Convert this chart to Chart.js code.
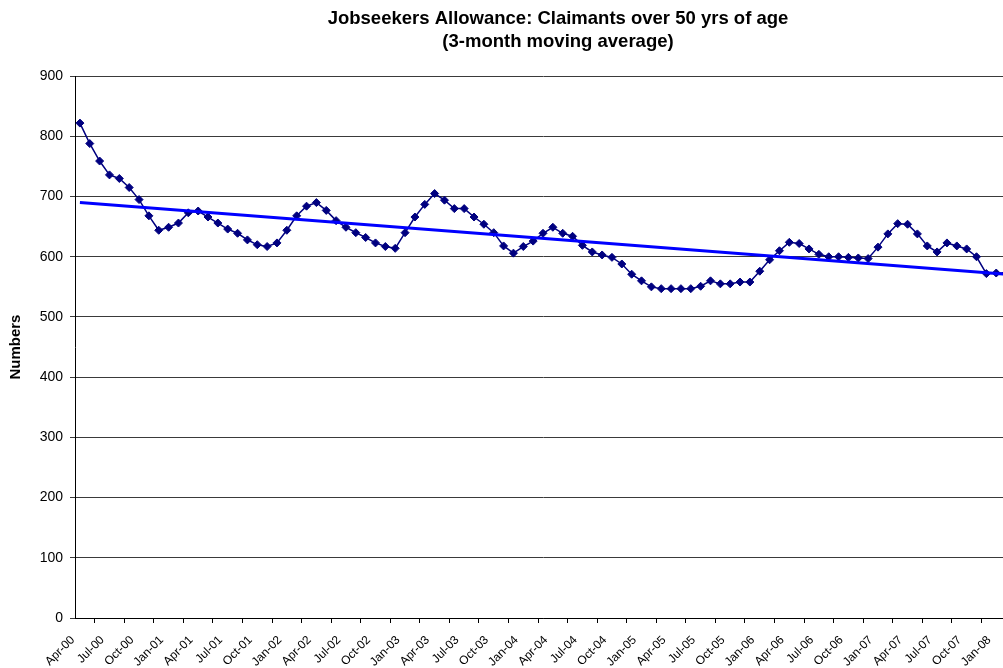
<!DOCTYPE html>
<html>
<head>
<meta charset="utf-8">
<title>Jobseekers Allowance</title>
<script src="https://cdn.jsdelivr.net/npm/chart.js@4.4.0/dist/chart.umd.min.js"></script>
<style>
html, body { margin: 0; padding: 0; background: #fff; overflow: hidden; }
#wrap { width: 1003px; height: 668px; overflow: hidden; position: relative; }
canvas { display: block; }
</style>
</head>
<body>
<div id="wrap"><canvas id="jsaChart" width="1114" height="680"></canvas></div>
<script>
// months Apr-00 .. Feb-08
var monthNames = ["Jan", "Feb", "Mar", "Apr", "May", "Jun", "Jul", "Aug", "Sep", "Oct", "Nov", "Dec"];
var categories = [];
for (var m = 3; m < 3 + 95; m++) {
    var yr = 2000 + Math.floor(m / 12);
    categories.push(monthNames[m % 12] + "-" + String(yr).slice(2));
}

// 3-month moving average, claimants over 50
var claimants = [
    822, 788, 759, 736, 730, 715, 695, 668, 644, 649, 656, 673,
    676, 666, 656, 646, 639, 628, 620, 617, 623, 644, 668, 684,
    690, 677, 660, 649, 640, 632, 623, 617, 614, 640, 666, 687,
    705, 694, 680, 680, 666, 654, 640, 618, 606, 617, 626, 639,
    649, 639, 634, 619, 608, 603, 599, 588, 571, 560, 550, 547,
    547, 547, 547, 551, 560, 555, 555, 558, 558, 576, 595, 610,
    624, 622, 613, 604, 600, 600, 599, 598, 597, 616, 638, 655,
    654, 638, 618, 608, 623, 618, 613, 600, 572, 573, 573
];

// linear trend: only the two ends, joined with spanGaps
var trendStart = 690;
var trendEnd = 571;
var trend = [];
for (var i = 0; i < categories.length; i++) trend.push(null);
trend[0] = trendStart;
trend[categories.length - 1] = trendEnd;

var yTicks = { min: 0, max: 900, step: 100 };

var canvas = document.getElementById('jsaChart');
var fontFam = "'Liberation Sans', Arial, Helvetica, sans-serif";

// the original title sat centred on a wider sheet, push its box right
var titleShift = {
    id: 'titleShift',
    afterLayout: function(chart) {
        if (chart.titleBlock) {
            chart.titleBlock.right = 1116;
        }
    }
};

var myChart = new Chart(canvas, {
    type: 'line',
    data: {
        labels: categories,
        datasets: [
            {
                label: "Trend",
                data: trend,
                spanGaps: true,
                borderColor: "#0000FF",
                borderWidth: 3,
                pointRadius: 0,
                fill: false,
                tension: 0,
                order: 0
            },
            {
                label: "Claimants over 50",
                data: claimants,
                borderColor: "#000080",
                borderWidth: 1.5,
                backgroundColor: "#000080",
                pointStyle: 'rectRot',
                pointRadius: 4,
                pointBorderWidth: 1,
                pointBorderColor: "#000080",
                pointBackgroundColor: "#000080",
                fill: false,
                tension: 0,
                order: 1
            }
        ]
    },
    plugins: [titleShift],
    options: {
        responsive: false,
        animation: false,
        layout: { padding: { left: 0, right: 103, top: 0, bottom: 0 } },
        plugins: {
            legend: { display: false },
            tooltip: { enabled: false },
            title: {
                display: true,
                text: ["Jobseekers Allowance: Claimants over 50 yrs of age", "(3-month moving average)"],
                color: "#000",
                font: { family: fontFam, size: 18.5, weight: 'bold', lineHeight: 1.22 },
                padding: { top: 8, bottom: 23 }
            }
        },
        scales: {
            x: {
                type: 'category',
                offset: true,
                afterFit: function(scale) { scale.height = 62; },
                border: { display: true, color: "#000", width: 1 },
                grid: {
                    display: true,
                    offset: true,
                    drawOnChartArea: false,
                    drawTicks: true,
                    tickLength: 5,
                    color: "#000"
                },
                ticks: {
                    autoSkip: false,
                    maxRotation: 45,
                    minRotation: 45,
                    padding: 10,
                    labelOffset: -7,
                    color: "#000",
                    font: { family: fontFam, size: 12 },
                    callback: function(val, index) {
                        return index % 3 === 0 ? this.getLabelForValue(val) : null;
                    }
                }
            },
            y: {
                min: yTicks.min,
                max: yTicks.max,
                afterFit: function(scale) { scale.width = 75; },
                border: { display: true, color: "#000", width: 1 },
                grid: {
                    color: "#3a3a3a",
                    lineWidth: 1,
                    drawTicks: true,
                    tickLength: 5
                },
                ticks: {
                    stepSize: yTicks.step,
                    padding: 7,
                    color: "#000",
                    font: { family: fontFam, size: 14 }
                },
                title: {
                    display: true,
                    text: "Numbers",
                    color: "#000",
                    font: { family: fontFam, size: 15, weight: 'bold', lineHeight: 1.2 },
                    padding: { top: 7, bottom: 0 }
                }
            }
        }
    }
});
</script>
</body>
</html>
